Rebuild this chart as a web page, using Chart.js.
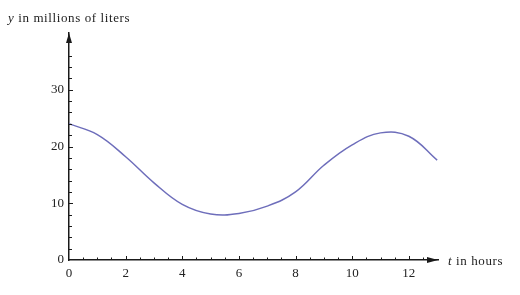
<!DOCTYPE html>
<html>
<head>
<meta charset="utf-8">
<script src="https://cdn.jsdelivr.net/npm/chart.js@4/dist/chart.umd.min.js"></script>
<style>
  html, body { margin: 0; padding: 0; background: #fff; }
  #wrap { width: 520px; height: 295px; }
</style>
</head>
<body>
<div id="wrap"><canvas id="c" width="520" height="295"></canvas></div>
<script>
// ---- data ----
const hours  = [0, 1, 2, 3, 4, 5, 6, 7, 8, 9, 10, 11, 12, 13];
const volume = [24, 22.1, 18.2, 13.6, 9.8, 8.1, 8.2, 9.5, 12, 16.7, 20.3, 22.4, 21.8, 17.6];
const xTickLabels = [0, 2, 4, 6, 8, 10, 12];
const yTickLabels = [0, 10, 20, 30];
const xMinorTicks = [0.5, 1, 1.5, 2.5, 3, 3.5, 4.5, 5, 5.5, 6.5, 7, 7.5, 8.5, 9, 9.5, 10.5, 11, 11.5, 12.5];
const yMinorTicks = [2, 4, 6, 8, 12, 14, 16, 18, 22, 24, 26, 28, 32, 34, 36];
const xTitle = ['t', ' in hours'];
const yTitle = ['y', ' in millions of liters'];

const points = hours.map((h, i) => ({ x: h, y: volume[i] }));
const AX = '#1a1a1a';
const FONT = '"Liberation Serif", "Times New Roman", serif';

const axesPlugin = {
  id: 'axesDecor',
  afterDraw(chart) {
    const ctx = chart.ctx;
    const xs = chart.scales.x, ys = chart.scales.y;
    const x0 = xs.getPixelForValue(0), y0 = ys.getPixelForValue(0);
    ctx.save();
    ctx.strokeStyle = AX;
    ctx.fillStyle = AX;
    ctx.lineWidth = 1;
    xTickLabels.forEach(v => {
      if (v === 0) return;
      const px = Math.round(xs.getPixelForValue(v)) + 0.5;
      ctx.beginPath(); ctx.moveTo(px, y0); ctx.lineTo(px, y0 - 4); ctx.stroke();
    });
    xMinorTicks.forEach(v => {
      const px = Math.round(xs.getPixelForValue(v)) + 0.5;
      ctx.beginPath(); ctx.moveTo(px, y0); ctx.lineTo(px, y0 - 2.5); ctx.stroke();
    });
    yTickLabels.forEach(v => {
      if (v === 0) return;
      const py = Math.round(ys.getPixelForValue(v)) + 0.5;
      ctx.beginPath(); ctx.moveTo(x0, py); ctx.lineTo(x0 + 4, py); ctx.stroke();
    });
    yMinorTicks.forEach(v => {
      const py = Math.round(ys.getPixelForValue(v)) + 0.5;
      ctx.beginPath(); ctx.moveTo(x0, py); ctx.lineTo(x0 + 3, py); ctx.stroke();
    });
    const top = chart.chartArea.top, right = chart.chartArea.right;
    ctx.beginPath();
    ctx.moveTo(x0, top); ctx.lineTo(x0 - 3, top + 10); ctx.lineTo(x0 + 3, top + 10); ctx.closePath(); ctx.fill();
    ctx.beginPath();
    ctx.moveTo(right, y0); ctx.lineTo(right - 11, y0 - 3); ctx.lineTo(right - 11, y0 + 3); ctx.closePath(); ctx.fill();
    ctx.textBaseline = 'alphabetic';
    ctx.fillStyle = '#222';
    try { ctx.letterSpacing = '0.6px'; } catch (e) {}
    const drawTitle = (parts, x, y) => {
      ctx.font = 'italic 13px ' + FONT;
      ctx.fillText(parts[0], x, y);
      const w = ctx.measureText(parts[0]).width;
      ctx.font = '13px ' + FONT;
      ctx.fillText(parts[1], x + w, y);
    };
    drawTitle(yTitle, 8, 22);
    drawTitle(xTitle, right + 10, y0 + 5);
    ctx.restore();
  }
};

new Chart(document.getElementById('c'), {
  type: 'line',
  data: {
    datasets: [{
      data: points,
      borderColor: '#6e6ebb',
      borderWidth: 1.5,
      pointRadius: 0,
      fill: false,
      tension: 0.4
    }]
  },
  options: {
    responsive: false,
    animation: false,
    events: [],
    layout: { padding: { left: 0, top: 33, right: 82, bottom: 0 } },
    plugins: { legend: { display: false }, tooltip: { enabled: false }, title: { display: false } },
    scales: {
      x: {
        type: 'linear',
        min: 0, max: 13.03,
        afterBuildTicks: s => { s.ticks = xTickLabels.map(v => ({ value: v })); },
        afterFit: s => { s.height = 35; },
        grid: { display: false, drawTicks: false },
        border: { display: true, color: AX, width: 1.5 },
        ticks: { padding: 6, color: '#222', font: { family: FONT, size: 13 }, maxRotation: 0, autoSkip: false }
      },
      y: {
        type: 'linear',
        min: 0, max: 40,
        afterBuildTicks: s => { s.ticks = yTickLabels.map(v => ({ value: v })); },
        afterFit: s => { s.width = 69; },
        grid: { display: false, drawTicks: false },
        border: { display: true, color: AX, width: 1.5 },
        ticks: { padding: 5, color: '#222', font: { family: FONT, size: 13 }, autoSkip: false }
      }
    }
  },
  plugins: [axesPlugin]
});
</script>
</body>
</html>
